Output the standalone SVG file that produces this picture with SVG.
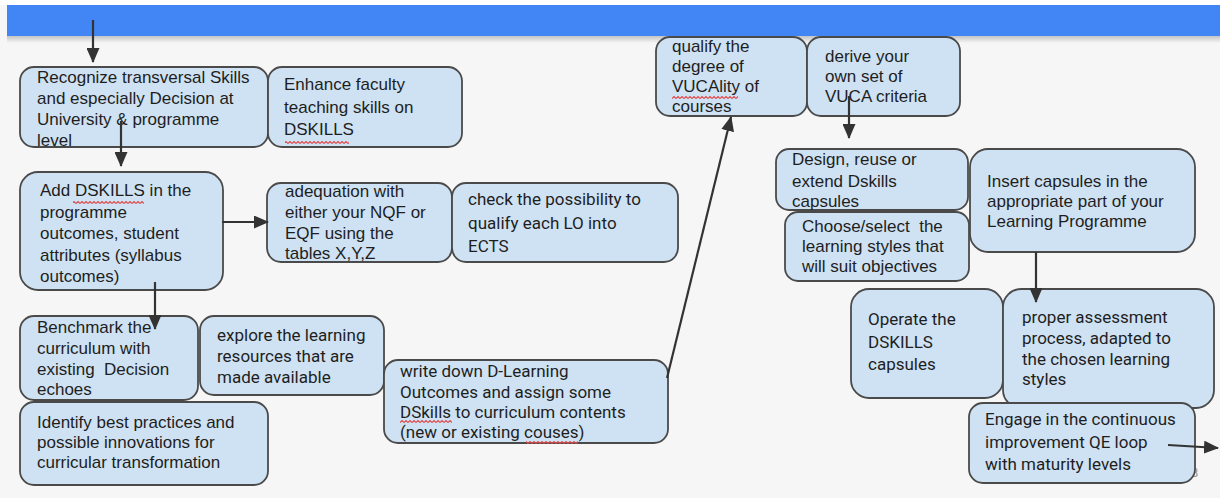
<svg xmlns="http://www.w3.org/2000/svg" width="1220" height="498" viewBox="0 0 1220 498">
<style>
.n{fill:#cfe2f3;stroke:#4a4a4a;stroke-width:1.8}
.a{font-family:"Liberation Sans",Arial,sans-serif;font-size:17px;fill:#1e1e1e}
.r{font-family:Roboto,"Liberation Sans",sans-serif;font-size:17px;fill:#1e1e1e}
.c{stroke:#333;stroke-width:2.2;fill:none;marker-end:url(#ah)}
.w{fill:url(#wave)}
</style>
<defs>
<marker id="ah" markerUnits="userSpaceOnUse" markerWidth="15" markerHeight="13" refX="14" refY="6.5" orient="auto">
<path d="M0,0 L15,6.5 L0,13 Z" fill="#333"/>
</marker>
<linearGradient id="sh" x1="0" y1="0" x2="0" y2="1">
<stop offset="0" stop-color="#c4c4c4"/>
<stop offset="1" stop-color="#f6f6f6"/>
</linearGradient>
<pattern id="wave" width="4" height="3" patternUnits="userSpaceOnUse">
<path d="M0,2.5 L2,0.5 L4,2.5" stroke="#e04848" stroke-width="1.1" fill="none"/>
</pattern>
</defs>
<rect x="0" y="0" width="1220" height="498" fill="#f6f6f6"/>
<rect x="0" y="0" width="1220" height="5" fill="#ffffff"/>
<rect x="7" y="36" width="1213" height="7" fill="url(#sh)"/>
<rect x="7" y="5" width="1213" height="31" fill="#4285f4"/>
<text x="1191" y="477" font-family="Roboto,sans-serif" font-size="13" fill="#999">8</text>

<g id="n1"><rect class="n" x="20" y="67" width="248" height="80" rx="14"/>
<text class="a" x="37"><tspan x="37" y="83">Recognize transversal Skills</tspan><tspan x="37" y="104">and especially Decision at</tspan><tspan x="37" y="125">University &amp; programme</tspan><tspan x="37" y="146">level</tspan></text></g>

<g id="n2"><rect class="n" x="268" y="67" width="194" height="80" rx="14"/>
<text class="a"><tspan x="284" y="90">Enhance faculty</tspan><tspan x="284" y="112.5">teaching skills on</tspan><tspan x="284" y="135">DSKILLS</tspan></text>
<rect class="w" x="285" y="141" width="64" height="3"/></g>

<g id="n3"><rect class="n" x="20" y="172" width="203" height="118" rx="18"/>
<text class="a"><tspan x="40" y="196">Add DSKILLS in the</tspan><tspan x="40" y="217.5">programme</tspan><tspan x="40" y="239">outcomes, student</tspan><tspan x="40" y="260.5">attributes (syllabus</tspan><tspan x="40" y="282">outcomes)</tspan></text>
<rect class="w" x="73" y="201" width="71" height="3"/></g>

<g id="n4"><rect class="n" x="267" y="183" width="185" height="79" rx="14"/>
<text class="a"><tspan x="285" y="197">adequation with</tspan><tspan x="285" y="218">either your NQF or</tspan><tspan x="285" y="238.5">EQF using the</tspan><tspan x="285" y="259">tables X,Y,Z</tspan></text></g>

<g id="n5"><rect class="n" x="452" y="183" width="226" height="79" rx="14"/>
<text class="r"><tspan x="468" y="205">check the possibility to</tspan><tspan x="468" y="228.5">qualify each LO into</tspan><tspan x="468" y="252">ECTS</tspan></text></g>

<g id="n6"><rect class="n" x="20" y="316" width="178" height="84" rx="14"/>
<text class="a" xml:space="preserve"><tspan x="37" y="333">Benchmark the</tspan><tspan x="37" y="354">curriculum with</tspan><tspan x="37" y="375">existing  Decision</tspan><tspan x="37" y="395">echoes</tspan></text></g>

<g id="n7"><rect class="n" x="200" y="316" width="184" height="79" rx="14"/>
<text class="r"><tspan x="217" y="341">explore the learning</tspan><tspan x="217" y="362">resources that are</tspan><tspan x="217" y="383">made available</tspan></text></g>

<g id="n8"><rect class="n" x="20" y="402" width="248" height="83" rx="14"/>
<text class="a"><tspan x="37" y="428">Identify best practices and</tspan><tspan x="37" y="448">possible innovations for</tspan><tspan x="37" y="468">curricular transformation</tspan></text></g>

<g id="n9"><rect class="n" x="384" y="360" width="284" height="83" rx="14"/>
<text class="r"><tspan x="400" y="377">write down D-Learning</tspan><tspan x="400" y="398">Outcomes and assign some</tspan><tspan x="400" y="418">DSkills to curriculum contents</tspan><tspan x="400" y="438">(new or existing couses)</tspan></text>
<rect class="w" x="400" y="420" width="52" height="3"/>
<rect class="w" x="526" y="441" width="52" height="3"/></g>

<g id="n10"><rect class="n" x="656" y="37" width="151" height="79" rx="14"/>
<text class="a"><tspan x="672" y="52">qualify the</tspan><tspan x="672" y="72">degree of</tspan><tspan x="672" y="92">VUCAlity of</tspan><tspan x="672" y="112">courses</tspan></text>
<rect class="w" x="672" y="96" width="66" height="3"/></g>

<g id="n11"><rect class="n" x="807" y="37" width="153" height="79" rx="14"/>
<text class="a"><tspan x="825" y="62">derive your</tspan><tspan x="825" y="82">own set of</tspan><tspan x="825" y="102">VUCA criteria</tspan></text></g>

<g id="n12"><rect class="n" x="776" y="149" width="192" height="61" rx="13"/>
<text class="a"><tspan x="792" y="165">Design, reuse or</tspan><tspan x="792" y="187">extend Dskills</tspan><tspan x="792" y="207">capsules</tspan></text></g>

<g id="n13"><rect class="n" x="785" y="212" width="184" height="69" rx="13"/>
<text class="a" xml:space="preserve"><tspan x="802" y="232">Choose/select  the</tspan><tspan x="802" y="252">learning styles that</tspan><tspan x="802" y="272">will suit objectives</tspan></text></g>

<g id="n14"><rect class="n" x="970" y="149" width="225" height="103" rx="18"/>
<text class="a"><tspan x="987" y="187">Insert capsules in the</tspan><tspan x="987" y="207">appropriate part of your</tspan><tspan x="987" y="227">Learning Programme</tspan></text></g>

<g id="n15"><rect class="n" x="851" y="289" width="152" height="109" rx="18"/>
<text class="r"><tspan x="868" y="325">Operate the</tspan><tspan x="868" y="348">DSKILLS</tspan><tspan x="868" y="370">capsules</tspan></text></g>

<g id="n16"><rect class="n" x="1003" y="289" width="211" height="119" rx="18"/>
<text class="r"><tspan x="1022" y="323">proper assessment</tspan><tspan x="1022" y="344">process, adapted to</tspan><tspan x="1022" y="365">the chosen learning</tspan><tspan x="1022" y="385">styles</tspan></text></g>

<g id="n17"><rect class="n" x="969" y="403" width="226" height="80" rx="14"/>
<text class="r"><tspan x="985" y="425">Engage in the continuous</tspan><tspan x="985" y="448">improvement QE loop</tspan><tspan x="985" y="470">with maturity levels</tspan></text></g>

<g id="connectors">
<line class="c" x1="93" y1="20" x2="93" y2="62"/>
<line class="c" x1="121" y1="121" x2="121" y2="166"/>
<line class="c" x1="222" y1="222" x2="268" y2="222"/>
<line class="c" x1="155" y1="282" x2="155" y2="329"/>
<line class="c" x1="667" y1="378" x2="731" y2="117"/>
<line class="c" x1="849" y1="96" x2="849" y2="138"/>
<line class="c" x1="1036" y1="252" x2="1036" y2="302"/>
<line class="c" x1="1168" y1="445" x2="1218" y2="448"/>
</g>
</svg>
